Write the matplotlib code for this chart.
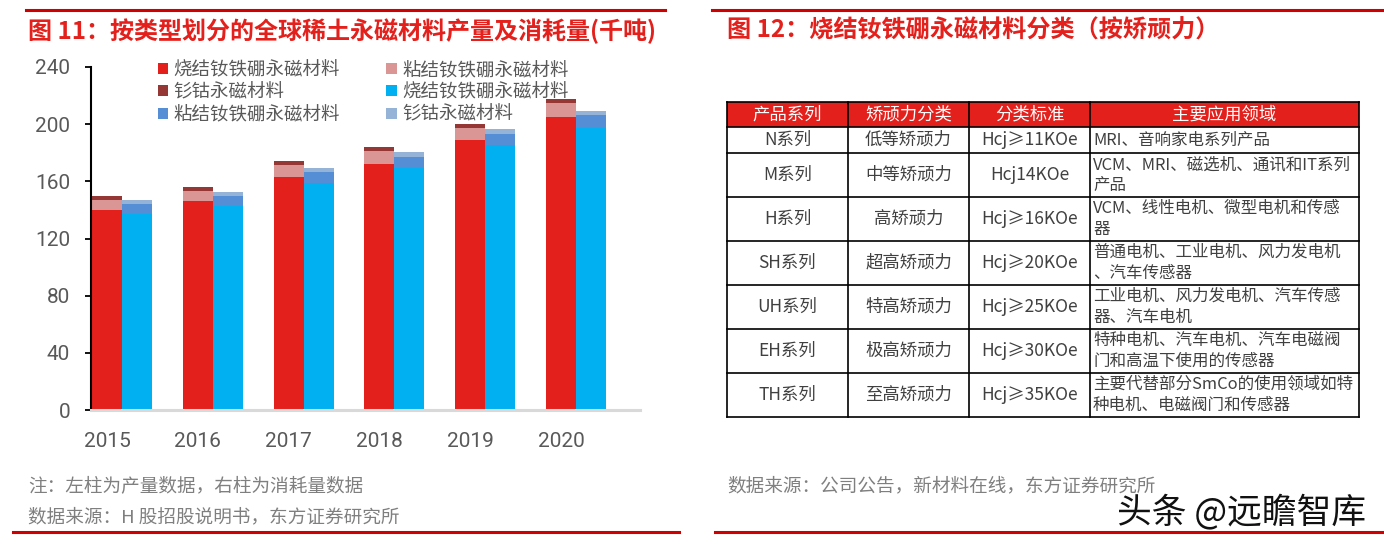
import numpy as np
import matplotlib
matplotlib.use("Agg")
import matplotlib.pyplot as plt
from matplotlib.patches import Patch, Rectangle
from matplotlib.lines import Line2D

plt.rcParams['font.family'] = ['Noto Sans CJK SC', 'DejaVu Sans']

# ---------------- data ----------------
years = ["2015", "2016", "2017", "2018", "2019", "2020"]
prod_sintered = [140.0, 146.0, 163.3, 172.4, 189.2, 205.3]
prod_bonded = [7.0, 7.2, 8.4, 8.6, 8.4, 9.3]
prod_smco = [2.7, 3.0, 2.5, 2.8, 2.8, 2.8]
cons_sintered = [137.0, 142.5, 158.6, 169.3, 185.2, 197.6]
cons_bonded = [7.0, 7.5, 8.2, 8.0, 8.2, 8.9]
cons_smco = [3.0, 2.8, 2.8, 3.2, 3.0, 3.0]
series_names = ["烧结钕铁硼永磁材料", "粘结钕铁硼永磁材料", "钐钴永磁材料"]
yticks = [0, 40, 80, 120, 160, 200, 240]

title_left = "图 11：按类型划分的全球稀土永磁材料产量及消耗量(千吨)"
title_right = "图 12：烧结钕铁硼永磁材料分类（按矫顽力）"
note_left1 = "注：左柱为产量数据，右柱为消耗量数据"
note_left2 = "数据来源：H 股招股说明书，东方证券研究所"
note_right = "数据来源：公司公告，新材料在线，东方证券研究所"
watermark = "头条 @远瞻智库"

table_header = ["产品系列", "矫顽力分类", "分类标准", "主要应用领域"]
table_series = ["N系列", "M系列", "H系列", "SH系列", "UH系列", "EH系列", "TH系列"]
table_class = ["低等矫顽力", "中等矫顽力", "高矫顽力", "超高矫顽力", "特高矫顽力", "极高矫顽力", "至高矫顽力"]
table_std = ["Hcj≥11KOe", "Hcj14KOe", "Hcj≥16KOe", "Hcj≥20KOe", "Hcj≥25KOe", "Hcj≥30KOe", "Hcj≥35KOe"]
table_app = [
    "MRI、音响家电系列产品",
    "VCM、MRI、磁选机、通讯和IT系列\n产品",
    "VCM、线性电机、微型电机和传感\n器",
    "普通电机、工业电机、风力发电机\n、汽车传感器",
    "工业电机、风力发电机、汽车传感\n器、汽车电机",
    "特种电机、汽车电机、汽车电磁阀\n门和高温下使用的传感器",
    "主要代替部分SmCo的使用领域如特\n种电机、电磁阀门和传感器",
]

# ---------------- styles ----------------
RED = "#E3201B"
C_PS, C_PB, C_PSM = "#E3201B", "#D99694", "#953735"
C_CS, C_CB, C_CSM = "#00B0F0", "#558ED5", "#95B3D7"
GRAY = "#595959"
NUMFONT = ['Roboto', 'DejaVu Sans']

W, H = 1384, 544
fig = plt.figure(figsize=(W / 100, H / 100), dpi=100)
fig.patch.set_facecolor("white")


def fx(px):
    return px / W


def fy(py):
    return 1 - py / H


# decorative red rules
for (x0, x1, y, lw) in [(26, 665, 10, 2.2), (712, 1384, 10, 2.2), (13, 679, 532, 2.2), (715, 1384, 532, 2.2)]:
    fig.add_artist(Line2D([fx(x0), fx(x1)], [fy(y), fy(y)], color="#D00000", lw=lw))

fig.text(fx(28), fy(31), title_left, color=RED, fontsize=17.3, fontweight="bold", va="center", ha="left")
fig.text(fx(727), fy(31), title_right, color=RED, fontsize=17.4, fontweight="bold", va="center", ha="left")

# ---------------- left chart ----------------
ax = fig.add_axes([fx(91), fy(410), fx(640 - 91), (410 - 67) / H])
x = np.arange(len(years))
bw = 0.33
xl = x - bw / 2
xr = x + bw / 2
ps = np.array(prod_sintered); pb = np.array(prod_bonded); pm = np.array(prod_smco)
cs = np.array(cons_sintered); cb = np.array(cons_bonded); cm = np.array(cons_smco)
h1 = ax.bar(xl, ps, bw, color=C_PS, label=series_names[0])
h2 = ax.bar(xl, pb, bw, bottom=ps, color=C_PB, label=series_names[1])
h3 = ax.bar(xl, pm, bw, bottom=ps + pb, color=C_PSM, label=series_names[2])
h4 = ax.bar(xr, cs, bw, color=C_CS, label=series_names[0])
h5 = ax.bar(xr, cb, bw, bottom=cs, color=C_CB, label=series_names[1])
h6 = ax.bar(xr, cm, bw, bottom=cs + cb, color=C_CSM, label=series_names[2])

ax.set_xlim(-0.341, 5.705)
ax.set_ylim(0, 240)
ax.set_yticks(yticks)
ax.set_yticklabels([str(v) for v in yticks], family=NUMFONT, fontsize=15, color=GRAY)
ax.set_xticks(xl)
ax.set_xticklabels(years, family=NUMFONT, fontsize=15, color=GRAY)
ax.tick_params(axis="x", length=0, pad=16)
ax.tick_params(axis="y", length=4, width=1.3, direction="out", pad=11, color="black")
for s in ["top", "right"]:
    ax.spines[s].set_visible(False)
ax.spines["left"].set_color("black")
ax.spines["left"].set_linewidth(1.5)
ax.spines["bottom"].set_color("#D9D9D9")
ax.spines["bottom"].set_linewidth(2.2)
ax.set_facecolor("none")

handles = [h1, h3, h5, h2, h4, h6]
labels = [series_names[0], series_names[2], series_names[1],
          series_names[1], series_names[0], series_names[2]]
leg = fig.legend(handles, labels, ncol=2, loc="upper left",
                 bbox_to_anchor=(fx(158), fy(61)), frameon=False,
                 prop={'family': ['Noto Sans CJK SC'], 'size': 13.3},
                 handlelength=0.55, handleheight=0.55, handletextpad=0.3,
                 labelspacing=0.24, columnspacing=2.5, borderpad=0, borderaxespad=0)
for t in leg.get_texts():
    t.set_color(GRAY)

fig.text(fx(28), fy(486), note_left1, color="#7F7F7F", fontsize=13.4, va="center", ha="left")
fig.text(fx(28), fy(517), note_left2, color="#7F7F7F", fontsize=13.4, va="center", ha="left")
fig.text(fx(727), fy(486), note_right, color="#7F7F7F", fontsize=13.4, va="center", ha="left")
fig.text(fx(1117), fy(512), watermark, color="#111111", fontsize=25, va="center", ha="left")

# ---------------- right table ----------------
col_w = [121, 121, 121, 269]
header_h = 25
row_h = [26 if "\n" not in a else 44 for a in table_app]
total_w = sum(col_w)
total_h = header_h + sum(row_h)
tax = fig.add_axes([fx(727), fy(102 + total_h), total_w / W, total_h / H])
tax.set_xlim(0, total_w)
tax.set_ylim(total_h, 0)
tax.axis("off")

col_x = np.concatenate([[0], np.cumsum(col_w)])
tax.add_patch(Rectangle((0, 0), total_w, header_h, facecolor=RED, edgecolor="none"))
TFS = 12.5
AFS = 11.9
for j, htxt in enumerate(table_header):
    tax.text((col_x[j] + col_x[j + 1]) / 2, header_h / 2, htxt, color="white",
             fontsize=TFS, ha="center", va="center")

TXT = "#404040"
ytop = header_h
row_tops = [0, header_h]
for i in range(len(table_series)):
    rh = row_h[i]
    yc = ytop + rh / 2
    for j, val in enumerate([table_series[i], table_class[i], table_std[i]]):
        tax.text((col_x[j] + col_x[j + 1]) / 2, yc, val, color=TXT, fontsize=TFS,
                 ha="center", va="center")
    lines = table_app[i].split("\n")
    if len(lines) == 1:
        tax.text(col_x[3] + 3, yc, lines[0], color=TXT, fontsize=AFS, ha="left", va="center")
    else:
        tax.text(col_x[3] + 3, yc - 10.5, lines[0], color=TXT, fontsize=AFS, ha="left", va="center")
        tax.text(col_x[3] + 3, yc + 10.5, lines[1], color=TXT, fontsize=AFS, ha="left", va="center")
    ytop += rh
    row_tops.append(ytop)

for yb in row_tops:
    tax.plot([0, total_w], [yb, yb], color="black", lw=1.2, clip_on=False)
for xb in col_x:
    tax.plot([xb, xb], [0, total_h], color="black", lw=1.2, clip_on=False)

fig.savefig("out.png", dpi=100)
